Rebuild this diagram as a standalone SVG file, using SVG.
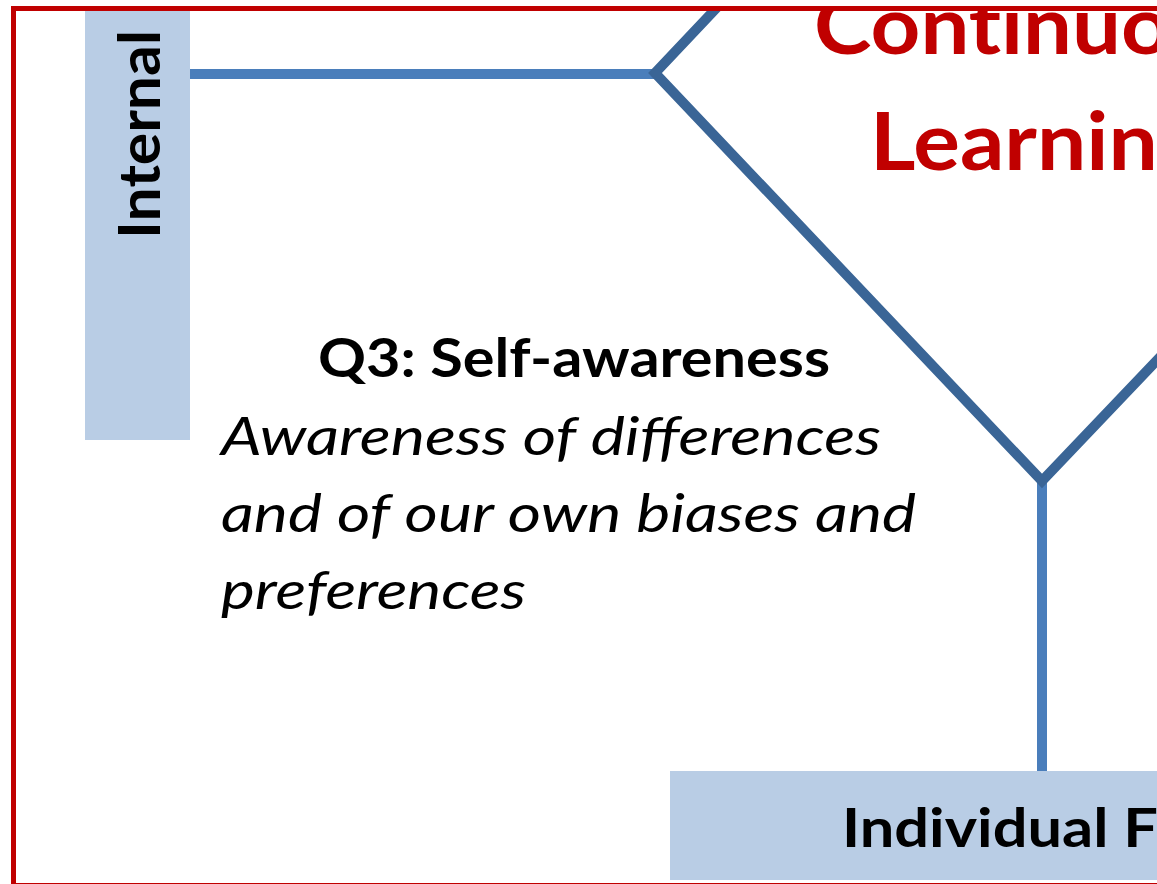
<svg xmlns="http://www.w3.org/2000/svg" width="1157" height="884" viewBox="0 0 1157 884">
  <style>
    .band { fill: #B9CDE5; }
    .label { font-family: Lato, "Open Sans", "Liberation Sans", sans-serif; font-weight: bold; fill: #000000; }
    .title { font-family: Lato, "Open Sans", "Liberation Sans", sans-serif; font-weight: bold; fill: #C00000; font-size: 81px; font-variant-ligatures: none; }
    .desc { font-family: Lato, "Open Sans", "Liberation Sans", sans-serif; font-style: italic; fill: #000000; font-size: 53px; }
    .link { stroke: #4A7EBB; stroke-width: 10; fill: none; }
    .frame-shape { stroke: #3A6596; stroke-width: 10; fill: none; stroke-linejoin: miter; stroke-miterlimit: 10; }
  </style>
  <defs>
    <clipPath id="inner">
      <rect x="11" y="11" width="1160" height="872"/>
    </clipPath>
  </defs>

  <rect x="0" y="0" width="1157" height="884" fill="#FFFFFF"/>

  <g clip-path="url(#inner)">
    <!-- connectors from the axis labels to the central shape -->
    <g id="connectors">
      <line class="link" x1="188" y1="74" x2="658" y2="74"/>
      <line class="link" x1="1042" y1="482" x2="1042" y2="773"/>
    </g>

    <!-- axis label: Internal -->
    <g id="axis-internal">
      <rect class="band" x="85" y="8" width="105" height="432"/>
      <text class="label" x="160" y="239" font-size="58" textLength="209" lengthAdjust="spacingAndGlyphs" transform="rotate(-90 160 239)">Internal</text>
    </g>

    <!-- axis label: Individual focus -->
    <g id="axis-individual">
      <rect class="band" x="670" y="771" width="500" height="109"/>
      <text class="label" x="842" y="847" font-size="54" textLength="316" lengthAdjust="spacingAndGlyphs">Individual F</text>
    </g>

    <!-- central diamond -->
    <g id="core">
      <polyline class="frame-shape" points="724,0 655,73 1042,481 1180,336"/>
      <text class="title" x="814" y="54" textLength="444" lengthAdjust="spacingAndGlyphs">Continuous</text>
      <text class="title" x="870" y="170" textLength="334" lengthAdjust="spacingAndGlyphs">Learning</text>
    </g>

    <!-- quadrant Q3 -->
    <g id="q3">
      <text class="label" x="318" y="377" font-size="53" textLength="512" lengthAdjust="spacingAndGlyphs">Q3: Self-awareness</text>
      <text class="desc" x="221" y="455" textLength="660" lengthAdjust="spacingAndGlyphs">Awareness of differences</text>
      <text class="desc" x="221" y="532" textLength="695" lengthAdjust="spacingAndGlyphs">and of our own biases and</text>
      <text class="desc" x="221" y="609" textLength="305" lengthAdjust="spacingAndGlyphs">preferences</text>
    </g>
  </g>

  <!-- outer frame -->
  <rect id="frame" x="13.5" y="8.5" width="1160" height="877" fill="none" stroke="#C00000" stroke-width="5"/>
</svg>
